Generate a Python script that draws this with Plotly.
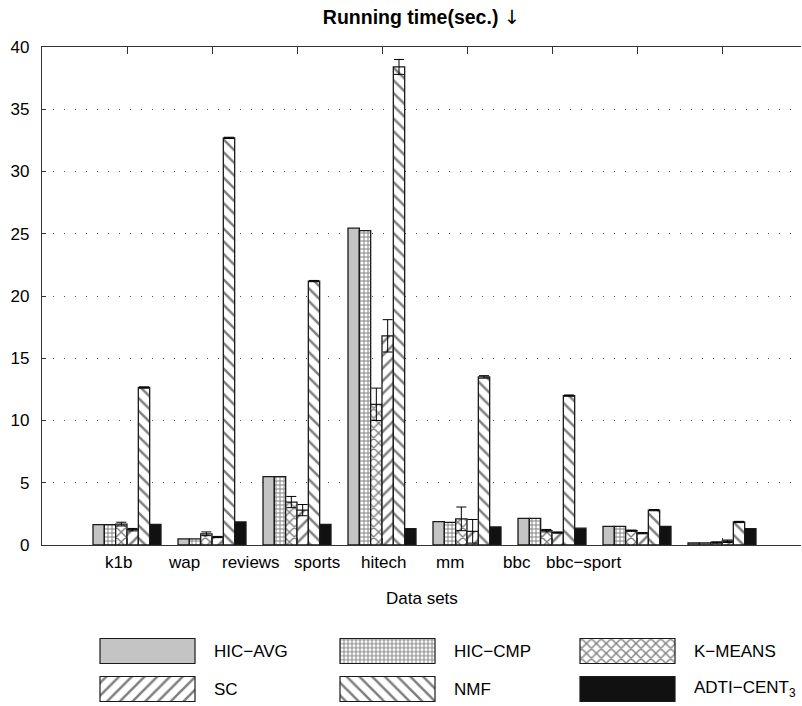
import plotly.graph_objects as go

# ---- data -------------------------------------------------------------
datasets = ["k1b", "wap", "reviews", "sports", "hitech", "mm", "bbc", "bbc−sport"]
methods = ["HIC−AVG", "HIC−CMP", "K−MEANS", "SC", "NMF", "ADTI−CENT<sub>3</sub>"]

hic_avg = [1.63, 0.50, 5.50, 25.45, 1.88, 2.14, 1.50, 0.16]
hic_cmp = [1.63, 0.50, 5.50, 25.25, 1.82, 2.14, 1.50, 0.16]
k_means = [1.68, 0.90, 3.45, 11.30, 2.10, 1.15, 1.15, 0.20]
sc = [1.23, 0.64, 2.80, 16.80, 1.10, 1.00, 0.95, 0.30]
nmf = [12.65, 32.70, 21.20, 38.40, 13.50, 12.00, 2.80, 1.85]
adti_cent3 = [1.65, 1.85, 1.65, 1.32, 1.45, 1.35, 1.50, 1.32]

k_means_err = [0.15, 0.15, 0.45, 1.30, 0.95, 0.10, 0.05, 0.05]
sc_err = [0.10, 0.05, 0.45, 1.30, 0.95, 0.05, 0.05, 0.10]
nmf_err = [0.05, 0.05, 0.05, 0.60, 0.10, 0.05, 0.05, 0.05]

y_ticks = [0, 5, 10, 15, 20, 25, 30, 35, 40]

values = [hic_avg, hic_cmp, k_means, sc, nmf, adti_cent3]
errors = [None, None, k_means_err, sc_err, nmf_err, None]

# ---- styling ----------------------------------------------------------
FONT = "Liberation Sans, Arial, Helvetica, sans-serif"
W, H = 802, 706
M_L, M_R, M_T, M_B = 42, 1, 47, 0
PLOT_W = W - M_L - M_R
PLOT_H = H - M_T - M_B
AXIS_BOTTOM_PX = 545          # pixel row of the value axis baseline
GROUP_PX = 85                 # pixel distance between bar groups
LABEL_FIRST_PX, LABEL_STEP_PX = 118, 66.43  # category label placement

main_dom_bottom = (H - AXIS_BOTTOM_PX) / PLOT_H


def pat(shape, size, solidity):
    return dict(shape=shape, size=size, solidity=solidity,
                fgcolor="black", bgcolor="white", fillmode="overlay")


styles = [
    dict(color="#c4c4c4", pattern=None),
    dict(color="white", pattern=pat("+", 4, 0.42)),
    dict(color="white", pattern=pat("x", 7, 0.36)),
    dict(color="white", pattern=pat("/", 9, 0.28)),
    dict(color="white", pattern=pat("\\", 9, 0.28)),
    dict(color="#111111", pattern=None),
]

fig = go.Figure()

group_x = list(range(1, len(datasets) + 1))

for name, vals, err, st in zip(methods, values, errors, styles):
    marker = dict(color=st["color"], line=dict(color="#1a1a1a", width=1.3))
    if st["pattern"]:
        marker["pattern"] = st["pattern"]
    tr = go.Bar(x=group_x, y=vals, name=name, marker=marker,
                showlegend=False, xaxis="x", yaxis="y")
    if err is not None:
        tr.error_y = dict(type="data", array=err, visible=True,
                          color="black", thickness=1, width=5)
    fig.add_trace(tr)

# category labels, spaced on their own pitch under the axis
for i, lab in enumerate(datasets):
    fig.add_annotation(x=(LABEL_FIRST_PX + i * LABEL_STEP_PX - M_L) / GROUP_PX,
                       y=main_dom_bottom, xref="x", yref="paper", yshift=-6,
                       text=lab, showarrow=False, xanchor="center", yanchor="top",
                       font=dict(size=17, family=FONT, color="black"))

# ---- custom legend (swatches as horizontal bars in their own axes) ----
leg_dom_top = 0.14
leg_top_px = H - leg_dom_top * PLOT_H
leg_cols = [100, 340, 580]
leg_rows = [651, 689]
sw_w, sw_h, txt_gap = 95, 25, 17

for i, (name, st) in enumerate(zip(methods, styles)):
    col, row = leg_cols[i % 3], leg_rows[i // 3]
    marker = dict(color=st["color"], line=dict(color="#1a1a1a", width=1.2))
    if st["pattern"]:
        marker["pattern"] = st["pattern"]
    fig.add_trace(go.Bar(
        x=[sw_w], y=[row], base=[col], orientation="h",
        width=sw_h, offset=-sw_h / 2, marker=marker,
        showlegend=False, hoverinfo="skip", xaxis="x3", yaxis="y3"))
    fig.add_annotation(x=col + sw_w + txt_gap, y=row, xref="x3", yref="y3",
                       text=name, showarrow=False, xanchor="left",
                       yanchor="middle", font=dict(size=17, family=FONT, color="black"))

fig.add_annotation(x=0.5, y=(H - 598) / PLOT_H, xref="paper", yref="paper",
                   text="Data sets", showarrow=False, xanchor="center",
                   yanchor="middle", font=dict(size=17, family=FONT, color="black"))

fig.update_layout(
    template="none",
    width=W, height=H,
    margin=dict(l=M_L, r=M_R, t=M_T, b=M_B, pad=0, autoexpand=False),
    paper_bgcolor="white", plot_bgcolor="white",
    font=dict(family=FONT, size=17, color="black"),
    barmode="group", bargap=0.2, bargroupgap=0,
    showlegend=False,
    title=dict(text="<b>Running time(sec.)</b> <span style='font-family:DejaVu Sans;color:black'>↓</span>",
               x=0.5, xref="paper", xanchor="center",
               y=1 - 17 / H, yref="container", yanchor="middle",
               font=dict(size=19.5, family=FONT, color="black")),
    xaxis=dict(domain=[0, 1], range=[0, PLOT_W / GROUP_PX], anchor="y",
               tickvals=group_x, showticklabels=False, automargin=False,
               ticks="inside", ticklen=7, tickcolor="#333", tickwidth=1,
               showline=True, linecolor="#333", linewidth=1.2, mirror="ticks",
               showgrid=False, zeroline=False, fixedrange=True),
    yaxis=dict(domain=[main_dom_bottom, 1], range=[0, 40], anchor="x",
               automargin=False,
               tickvals=y_ticks, ticks="inside", ticklen=4, tickcolor="#333",
               showline=True, linecolor="#333", linewidth=1.2,
               showgrid=True, gridcolor="#555555", gridwidth=1,
               griddash="1px,10px", zeroline=False, ticklabelstandoff=8,
               tickfont=dict(size=17, family=FONT, color="black")),
    xaxis3=dict(domain=[0, 1], range=[M_L, W - M_R], anchor="y3",
                visible=False, fixedrange=True, automargin=False),
    yaxis3=dict(domain=[0, leg_dom_top], range=[H, leg_top_px], anchor="x3",
                visible=False, fixedrange=True, automargin=False),
)

fig.write_html("out.html")
